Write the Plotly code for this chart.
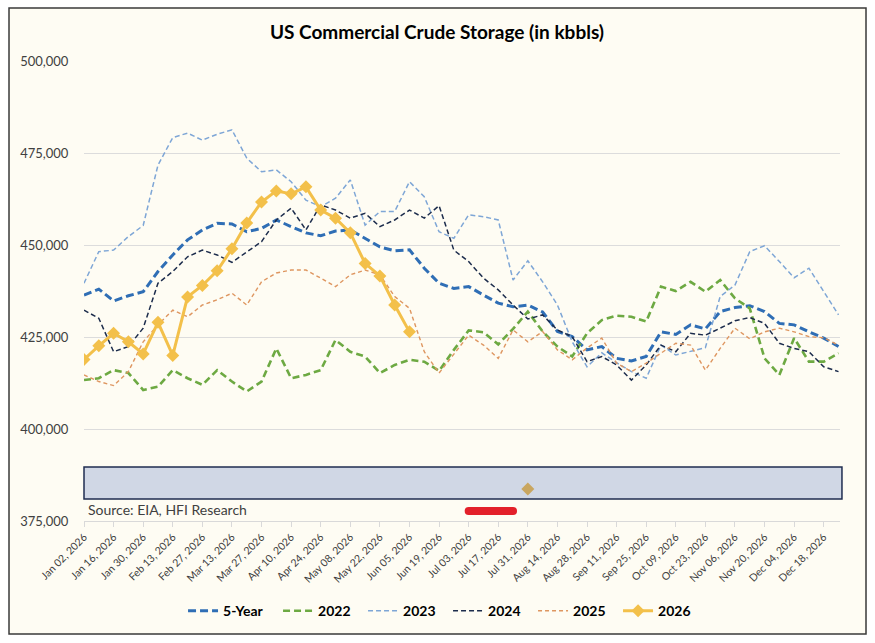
import plotly.graph_objects as go
import pandas as pd

# weekly categories, Jan 02 2026 .. Dec 25 2026
weeks = [d.strftime("%b %d, %Y") for d in pd.date_range("2026-01-02", periods=52, freq="7D")]
tick_labels = weeks[::2]

five_year = [436400, 438000, 434800, 436200, 437300, 442800, 447300, 451400, 454100, 455900,
             455700, 453600, 454500, 456800, 455000, 453300, 452500, 453800, 454100, 451800,
             449500, 448400, 448700, 443700, 439600, 438200, 438700, 436400, 434200, 433200,
             433700, 431800, 426500, 425100, 421500, 422400, 419200, 418500, 419700, 426400,
             425700, 428300, 427200, 431900, 433000, 433500, 431900, 428700, 428300, 426400,
             424700, 422400]
y2022 = [413300, 413800, 416000, 415200, 410600, 411500, 416000, 413800, 412000, 416000,
         412900, 410200, 412900, 421900, 413800, 414700, 416000, 424200, 421000, 419700,
         415200, 417400, 418800, 418300, 415800, 421500, 426800, 426300, 423000, 427200,
         431900, 426500, 422400, 419700, 426000, 429600, 430800, 430500, 429200, 438700,
         437500, 440000, 437300, 440500, 435500, 432800, 419200, 414700, 424700, 418300,
         418300, 420600]
y2023 = [439600, 448200, 448600, 452300, 455300, 471700, 479200, 480400, 478500, 480100,
         481300, 473600, 469900, 470400, 467200, 462200, 460400, 462700, 467700, 455400,
         459100, 459100, 467200, 463100, 453600, 451800, 458200, 457700, 456800, 440500,
         445700, 440000, 433700, 423700, 416900, 420700, 418000, 415600, 413800, 422800,
         420100, 421000, 422100, 436000, 439100, 448200, 449800, 445500, 441100, 443700,
         437300, 431000]
y2024 = [432300, 430100, 421000, 422400, 427400, 439600, 442800, 446800, 448600, 447300,
         445300, 448200, 450900, 456800, 460000, 454100, 460900, 459500, 457300, 458600,
         455000, 456800, 459500, 457300, 460700, 448600, 445500, 441000, 437800, 433700,
         429900, 431000, 426900, 425100, 418300, 419700, 417400, 413300, 417400, 422800,
         421000, 426000, 425500, 427400, 429400, 430300, 428700, 423300, 421900, 421000,
         416900, 415600]
y2025 = [414700, 412900, 411800, 415600, 423700, 428300, 432300, 430500, 433700, 435100,
         436900, 433700, 440000, 442400, 443200, 443200, 441000, 438700, 441900, 443200,
         441900, 436000, 432800, 421000, 415200, 420500, 425500, 422800, 419200, 426900,
         423700, 426500, 421500, 418800, 422000, 424700, 417900, 415600, 417900, 420600,
         423300, 422800, 416000, 421900, 427400, 424500, 426400, 427400, 426400, 425100,
         424800, 422800]
y2026 = [418900, 422600, 426000, 423700, 420400, 429000, 420000, 435900, 439000, 443000,
         449000, 456000, 461700, 464700, 463900, 465800, 459500, 457300, 453300, 445000,
         441600, 433700, 426400]

# stray marks in the lower band of the original
tan_x = [weeks[30]]
tan_y = [383700]
red_x = [weeks[26], weeks[29]]
red_y = [377700, 377700]

FONT = "Lato"
cream = "#FEFCF3"

fig = go.Figure()

series = [
    ("5-Year", five_year, "#2F6EB5", 3, "8px,4px"),
    ("2022", y2022, "#6DA942", 2.6, "7px,4px"),
    ("2023", y2023, "#7EA6D6", 1.5, "5px,3px"),
    ("2024", y2024, "#1C2C4C", 1.5, "5px,3px"),
    ("2025", y2025, "#DE9660", 1.4, "4px,3px"),
]
for name, vals, col, w, dash in series:
    fig.add_trace(go.Scatter(x=weeks[:len(vals)], y=vals, name=name, mode="lines",
                             line=dict(color=col, width=w, dash=dash),
                             legendwidth=50 if name == "5-Year" else None))

fig.add_trace(go.Scatter(x=weeks[:len(y2026)], y=y2026, name="2026", mode="lines+markers",
                         line=dict(color="#F3C04A", width=3),
                         marker=dict(symbol="diamond", size=10, color="#F3C04A")))

fig.add_trace(go.Scatter(x=tan_x, y=tan_y, mode="markers", showlegend=False, hoverinfo="skip",
                         marker=dict(symbol="diamond", size=10, color="#C9A660")))
fig.add_trace(go.Scatter(x=red_x, y=red_y, mode="lines+markers", showlegend=False, hoverinfo="skip",
                         line=dict(color="#E3202A", width=8),
                         marker=dict(symbol="circle", size=8, color="#E3202A")))

# outer frame
fig.add_shape(type="rect", xref="paper", yref="paper", x0=-0.0992, x1=1.0344, y0=-0.2457, y1=1.1152,
              fillcolor=cream, line=dict(color="#3A3A3A", width=1.5), layer="below")
# grey band
fig.add_shape(type="rect", xref="paper", yref="y", x0=0, x1=1.0026, y0=381000, y1=389700,
              fillcolor="#D0D7E5", line=dict(color="#1F2D50", width=1.5), layer="below")

fig.add_annotation(text="Source: EIA, HFI Research", xref="paper", yref="paper", x=0.003, y=0.024,
                   xanchor="left", yanchor="middle", showarrow=False,
                   font=dict(family=FONT, size=14, color="#404040"))

fig.update_layout(
    width=875, height=643,
    margin=dict(l=84, r=35, t=61, b=122),
    paper_bgcolor="white", plot_bgcolor="rgba(0,0,0,0)",
    font=dict(family=FONT, color="#404040"),
    title=dict(text="US Commercial Crude Storage (in kbbls)", x=0.4994, y=0.950,
               xanchor="center", yanchor="middle",
               font=dict(family=FONT, size=19, color="black", weight="bold")),
    legend=dict(orientation="h", x=0.131, xanchor="left", y=-0.196, yanchor="middle",
                entrywidth=40, entrywidthmode="pixels",
                font=dict(family=FONT, size=14, color="black", weight="bold"),
                bgcolor="rgba(0,0,0,0)"),
    showlegend=True,
)
fig.update_xaxes(type="category", categoryorder="array", categoryarray=weeks, range=[0, 51.1],
                 tickvals=tick_labels, ticktext=tick_labels, tickangle=-45,
                 tickfont=dict(size=10.5, color="#404040"), showgrid=False,
                 showline=True, linecolor="#D9D9D9", ticks="outside", ticklen=5, tickcolor="#D9D9D9")
fig.update_yaxes(range=[375000, 500000], dtick=25000, tickformat=",", showgrid=True,
                 gridcolor="#DCDCDC", zeroline=False, tickfont=dict(size=13, color="#404040"),
                 ticks="outside", ticklen=12, tickcolor="rgba(0,0,0,0)")

fig.write_html("out.html", config={"displayModeBar": False},
               post_script="document.body.style.margin='0';")
